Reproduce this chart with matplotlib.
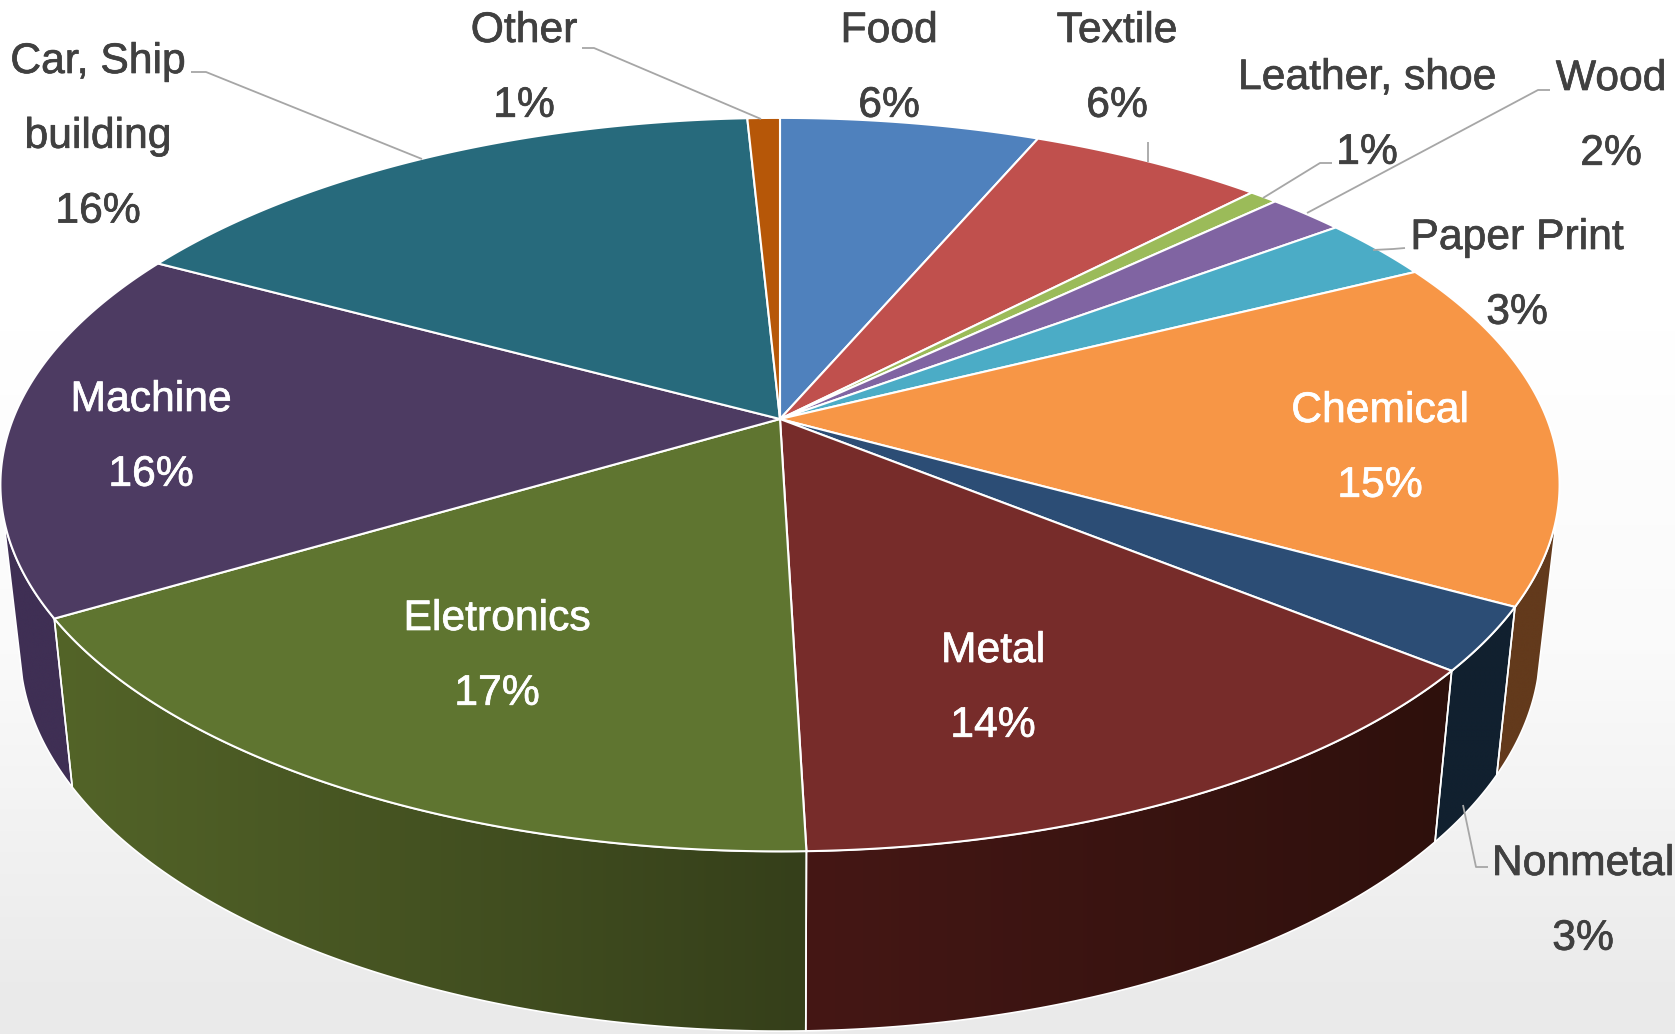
"""Energy use by industry sector, drawn as a tilted 3D pie with a perspective rim."""
import matplotlib

matplotlib.use("Agg")
import matplotlib.patheffects as pe
import matplotlib.pyplot as plt
import numpy as np
from matplotlib.colors import LinearSegmentedColormap
from matplotlib.patches import Polygon

plt.rcParams["font.family"] = ["Liberation Sans", "DejaVu Sans"]

sectors = ["Food", "Textile", "Leather, shoe", "Wood", "Paper Print", "Chemical",
           "Nonmetal", "Metal", "Eletronics", "Machine", "Car, Ship\nbuilding", "Other"]
shares = [6.4, 5.8, 0.7, 1.9, 2.8, 15.4, 2.8, 13.7, 16.9, 16.4, 16.3, 0.8]

top_colors = ["#4F81BD", "#C0504D", "#9BBB59", "#8064A2", "#4BACC6", "#F79646",
              "#2C4D75", "#772C2A", "#5F7530", "#4D3B62", "#276A7C", "#B65708"]
# side wall shading, left and right end of each horizontal gradient
wall_left = {5: "#633A1C", 6: "#11202F", 7: "#451715", 8: "#536428", 9: "#3F2F54"}
wall_right = {5: "#633A1C", 6: "#11202F", 7: "#2E100C", 8: "#353F1A", 9: "#3F2F54"}

# label layout: centre of the first line, in pixels
label_xy = [(889, 31), (1117, 31), (1367, 78), (1611, 79), (1517, 238), (1380, 411),
            (1583, 864), (993, 651), (497, 619), (151, 400), (98, 62), (524, 31)]
label_colors = ["#404040"] * 5 + ["white"] + ["#404040"] + ["white"] * 3 + ["#404040"] * 2
LINE_STEP = 74.8

leaders = [
    [(1148, 142), (1148, 162)],
    [(1263, 198), (1320, 163), (1332, 163)],
    [(1307, 213), (1538, 90), (1550, 90)],
    [(1373, 250), (1393, 249), (1405, 248)],
    [(1463, 805), (1476, 867), (1488, 867)],
    [(191, 72), (206, 72), (422, 159)],
    [(582, 48), (594, 48), (761, 119)],
]

W, H = 1675, 1034
CX = 780
TOP_Y, TOP_A, TOP_B = 419, 767, 355
BOT_Y, BOT_A, BOT_B = 578, 748, 372
K = 0.179  # perspective strength
WALL_START, WALL_END = 105, 255  # degrees clockwise from 12 o'clock


def rim(theta_deg, cy, a, b):
    t = np.radians(theta_deg)
    u, v = np.sin(t), -np.cos(t)
    w = 1 - K * v
    return CX + a * u / w, cy + b * v / w


def wall_gradient(ax, poly, left, right):
    cmap = LinearSegmentedColormap.from_list("wall", [left, right])
    xs, ys = poly[:, 0], poly[:, 1]
    im = ax.imshow(np.linspace(0, 1, 256)[None, :], cmap=cmap, aspect="auto", zorder=2,
                   extent=(xs.min(), xs.max(), ys.max(), ys.min()), interpolation="bilinear")
    im.set_clip_path(Polygon(poly, transform=ax.transData))


fig = plt.figure(figsize=(W / 100, H / 100), dpi=100)
ax = fig.add_axes([0, 0, 1, 1])

# page background fades to light grey towards the bottom
stops = np.interp(np.arange(H), [0, 330, 660, 990, H], [1.0, 1.0, 0.98, 0.92, 0.92])
ax.imshow(np.tile(stops[:, None, None], (1, 1, 3)), extent=(0, W, H, 0), aspect="auto", zorder=0)

edges = np.concatenate([[0], np.cumsum(shares)]) / np.sum(shares) * 360

# side wall first, the top face overlaps what is behind it
for i in wall_left:
    start = max(edges[i], WALL_START)
    end = min(edges[i + 1], WALL_END)
    th = np.linspace(start, end, 80)
    tx, ty = rim(th, TOP_Y, TOP_A, TOP_B)
    bx, by = rim(th[::-1], BOT_Y, BOT_A, BOT_B)
    poly = np.column_stack([np.r_[tx, bx], np.r_[ty, by]])
    wall_gradient(ax, poly, wall_left[i], wall_right[i])
    ax.add_patch(Polygon(poly, closed=True, fill=False, edgecolor="white", lw=1.2, zorder=3))

for i, color in enumerate(top_colors):
    th = np.linspace(edges[i], edges[i + 1], 120)
    x, y = rim(th, TOP_Y, TOP_A, TOP_B)
    pts = np.column_stack([np.r_[CX, x], np.r_[TOP_Y, y]])
    ax.add_patch(Polygon(pts, closed=True, facecolor=color, edgecolor="white", lw=1.5, zorder=4))

for path in leaders:
    xs, ys = zip(*path)
    ax.plot(xs, ys, color="#A6A6A6", lw=1.3, zorder=5, solid_capstyle="butt")

for name, share, (lx, ly), col in zip(sectors, shares, label_xy, label_colors):
    lines = name.split("\n") + [f"{share:.0f}%"]
    for n, line in enumerate(lines):
        txt = ax.text(lx, ly + n * LINE_STEP, line, color=col, fontsize=30.7, ha="center",
                      va="center", zorder=6)
        # slightly heavier strokes than the regular face
        txt.set_path_effects([pe.withStroke(linewidth=0.5, foreground=col)])

ax.set_xlim(0, W)
ax.set_ylim(H, 0)
ax.axis("off")
fig.savefig("out.png", dpi=100)
